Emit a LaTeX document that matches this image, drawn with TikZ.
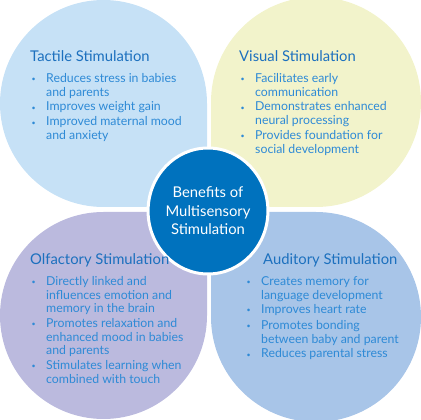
\documentclass[tikz,border=0pt]{standalone}
\usepackage{fontspec}
\setmainfont{Lato}
\usetikzlibrary{shapes.geometric}

\definecolor{tactilefill}{HTML}{C6E1F6}
\definecolor{visualfill}{HTML}{F2F3CB}
\definecolor{olfactfill}{HTML}{BBBADE}
\definecolor{auditfill}{HTML}{A8C5E8}
\definecolor{hubblue}{HTML}{0072BE}
\definecolor{headblue}{HTML}{1C70BE}
\definecolor{bodyblue}{HTML}{2E8AD6}

\newcommand{\bulletdot}{\llap{\makebox[14.5pt][l]{\raisebox{0.8pt}{\fontsize{7}{7}\selectfont\textbullet}}}}
\newcommand{\itemtext}[1]{\bulletdot\begin{tabular}[t]{@{}l@{}}#1\end{tabular}}

\begin{document}
\begin{tikzpicture}[
  x=1pt,
  y=1pt,
  every node/.style={inner sep=0pt},
  heading/.style={anchor=base west, text=headblue, font=\fontsize{14.8}{17}\selectfont},
  item/.style={anchor=base west, text=bodyblue, font=\fontsize{12.3}{13.6}\selectfont},
  hub/.style={ellipse, fill=hubblue, draw=white, line width=3pt, text=white,
    align=center, minimum width=118pt, minimum height=126pt,
    font=\fontsize{14.8}{18.5}\selectfont}
]
  \useasboundingbox (0,0) rectangle (421,420);

  % four petals, square corner towards the middle
  \fill[tactilefill] (207,213) -- (207,316.5) arc[start angle=0, delta angle=270, radius=103.5] -- cycle;
  \fill[visualfill] (211,213) -- (316,213) arc[start angle=270, delta angle=270, radius=105] -- cycle;
  \fill[auditfill] (211,208) -- (211,103) arc[start angle=180, delta angle=270, radius=105] -- cycle;
  \fill[olfactfill] (207,208) -- (103.5,208) arc[start angle=90, delta angle=270, radius=103.5] -- cycle;

  \node[hub] (hub) at (208,209) {Benefits of\\Multisensory\\Stimulation};

  % tactile
  \node[heading] (tactile) at (30,358.5) {Tactile Stimulation};
  \node[item] (tactile1) at (46,337.25) {\itemtext{Reduces stress in babies\\and parents}};
  \node[item] (tactile2) at (46,309) {\itemtext{Improves weight gain}};
  \node[item] (tactile3) at (46,294) {\itemtext{Improved maternal mood\\and anxiety}};

  % visual
  \node[heading] (visual) at (239,358.5) {Visual Stimulation};
  \node[item] (visual1) at (255,337.25) {\itemtext{Facilitates early\\communication}};
  \node[item] (visual2) at (255,309) {\itemtext{Demonstrates enhanced\\neural processing}};
  \node[item] (visual3) at (255,280.25) {\itemtext{Provides foundation for\\social development}};

  % olfactory
  \node[heading] (olfact) at (30,155.5) {Olfactory Stimulation};
  \node[item] (olfact1) at (46,134.5) {\itemtext{Directly linked and\\influences emotion and\\memory in the brain}};
  \node[item] (olfact2) at (46,92.25) {\itemtext{Promotes relaxation and\\enhanced mood in babies\\and parents}};
  \node[item] (olfact3) at (46,50.25) {\itemtext{Stimulates learning when\\combined with touch}};

  % auditory
  \node[heading] (audit) at (263,155.5) {Auditory Stimulation};
  \node[item] (audit1) at (261,134.5) {\itemtext{Creates memory for\\language development}};
  \node[item] (audit2) at (261,106.25) {\itemtext{Improves heart rate}};
  \node[item] (audit3) at (261,90.5) {\itemtext{Promotes bonding\\between baby and parent}};
  \node[item] (audit4) at (261,62) {\itemtext{Reduces parental stress}};
\end{tikzpicture}
\end{document}
